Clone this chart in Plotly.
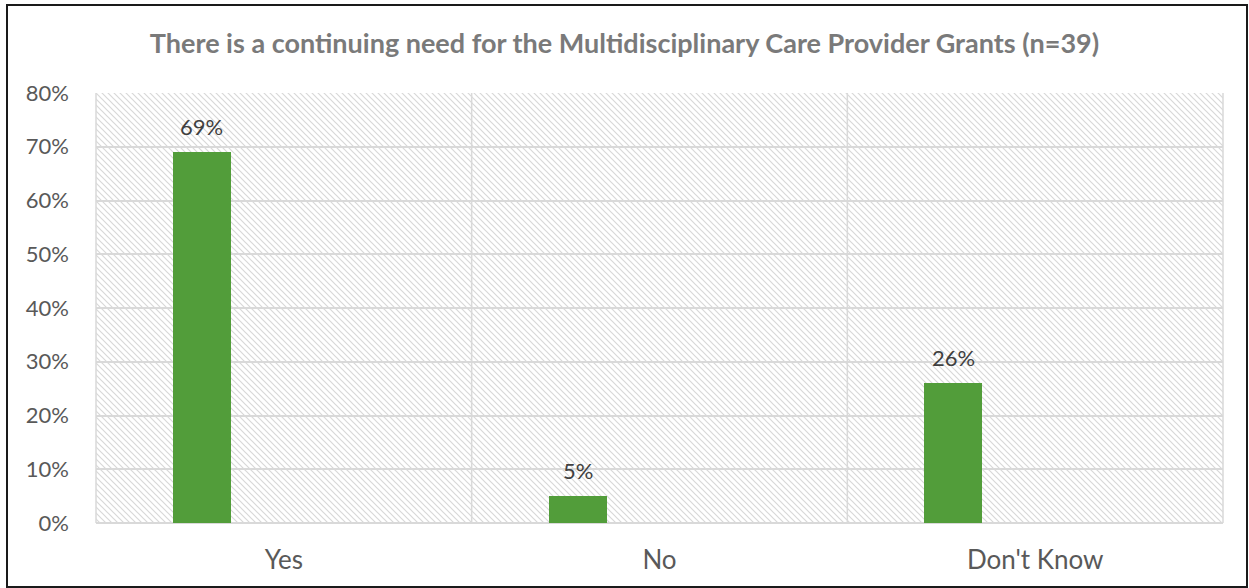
import base64
import plotly.graph_objects as go

categories = ["Yes", "No", "Don't Know"]
values = [69, 5, 26]
labels = ["69%", "5%", "26%"]
tick_vals = [0, 10, 20, 30, 40, 50, 60, 70, 80]
tick_text = ["0%", "10%", "20%", "30%", "40%", "50%", "60%", "70%", "80%"]
title = "There is a continuing need for the Multidisciplinary Care Provider Grants (n=39)"

FONT = "Lato"
GREEN = "#529D3A"
BAR_W = 0.154
BAR_OFF = -0.295

L, R, T, B = 96, 26, 93, 65
W, H = 1249, 588
PW, PH = W - L - R, H - T - B

svg = (
    f'<svg xmlns="http://www.w3.org/2000/svg" width="{PW}" height="{PH}" '
    f'viewBox="0 0 {PW} {PH}" preserveAspectRatio="none">'
    '<defs><pattern id="p" width="6" height="6" patternUnits="userSpaceOnUse">'
    '<path d="M-1,-1 L7,7 M-4,2 L2,8 M2,-4 L8,2" stroke="#d8d8d8" stroke-width="1.2"/>'
    '</pattern></defs>'
    f'<rect width="{PW}" height="{PH}" fill="url(#p)"/></svg>'
)
src = "data:image/svg+xml;base64," + base64.b64encode(svg.encode()).decode()

fig = go.Figure()
fig.add_trace(go.Bar(
    x=categories, y=values, width=BAR_W, offset=BAR_OFF,
    marker=dict(color=GREEN, line=dict(width=0)),
    hoverinfo="skip",
))

for c, v, t in zip(categories, values, labels):
    fig.add_annotation(
        x=c, y=v, text=t, showarrow=False, yanchor="bottom",
        xshift=(BAR_OFF + BAR_W / 2) * PW / 3, yshift=10,
        font=dict(family=FONT, size=22, color="#404040"),
    )

fig.add_layout_image(dict(
    source=src, xref="paper", yref="paper", x=0, y=1, sizex=1, sizey=1,
    xanchor="left", yanchor="top", sizing="stretch", layer="below",
))

# figure border
x0 = (7 - L) / PW
x1 = (W - 2 - L) / PW
y1 = (H - B - 5) / PH
y0 = (H - B - (H - 1)) / PH
fig.add_shape(type="rect", xref="paper", yref="paper", x0=x0, x1=x1, y0=y0, y1=y1,
              line=dict(color="#1a1a1a", width=2), fillcolor="rgba(0,0,0,0)", layer="above")

fig.update_layout(
    width=W, height=H,
    margin=dict(l=L, r=R, t=T, b=B),
    paper_bgcolor="white", plot_bgcolor="rgba(0,0,0,0)",
    showlegend=False,
    title=dict(text=f"<b>{title}</b>", x=0.5, xref="container", xanchor="center",
               y=1 - 44 / H, yanchor="middle",
               font=dict(family=FONT, size=27, color="#7a7a7a")),
    bargap=0,
)
fig.update_xaxes(
    type="category", showgrid=False, showline=False, ticks="",
    tickfont=dict(family=FONT, size=26, color="#595959"),
    ticklabelstandoff=19,
)
fig.update_yaxes(
    range=[0, 80], tickvals=tick_vals, ticktext=tick_text,
    showgrid=True, gridcolor="#d9d9d9", gridwidth=1.5, zeroline=False,
    showline=False, ticks="", ticklabelstandoff=26,
    tickfont=dict(family=FONT, size=22, color="#595959"),
)
# category separators and plot frame
for k in range(4):
    fig.add_shape(type="line", xref="paper", yref="paper", x0=k / 3, x1=k / 3, y0=0, y1=1,
                  line=dict(color="#d9d9d9", width=1.5), layer="below")
fig.add_shape(type="line", xref="paper", yref="paper", x0=0, x1=1, y0=0, y1=0,
              line=dict(color="#d9d9d9", width=2), layer="below")

fig.write_html("out.html")
